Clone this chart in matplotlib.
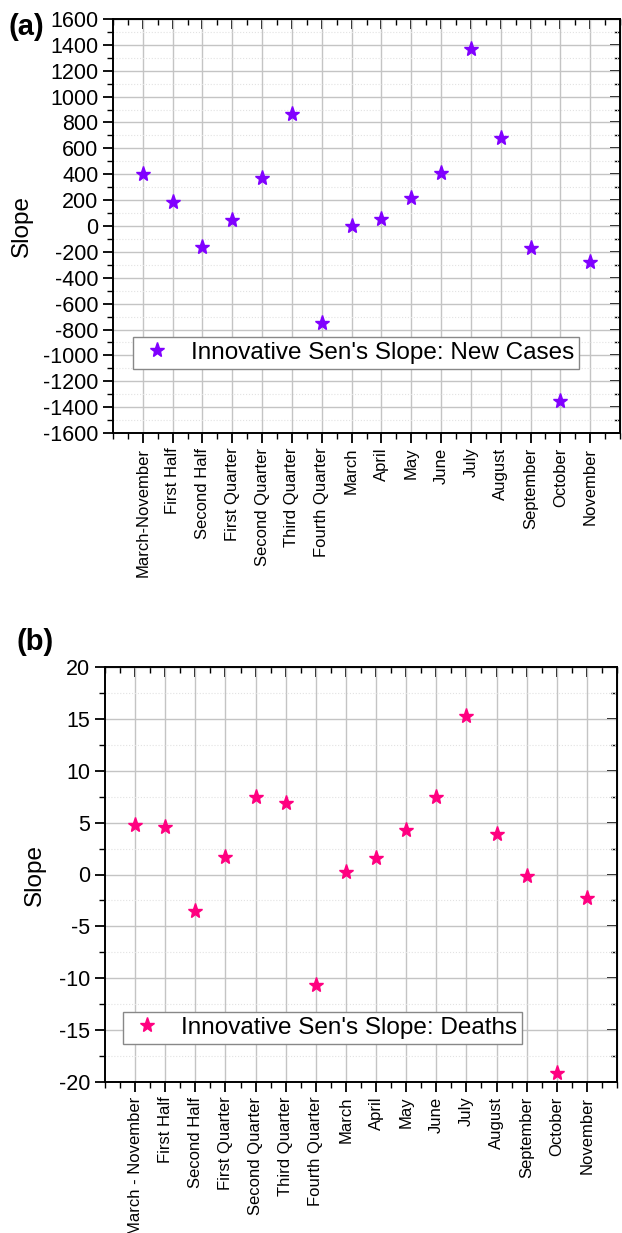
"""Innovative Sen's slope per period: new cases (a) and deaths (b)."""
import numpy as np
import matplotlib
matplotlib.use("Agg")
import matplotlib.pyplot as plt
from matplotlib.ticker import MultipleLocator

plt.rcParams["font.family"] = ["Liberation Sans", "DejaVu Sans"]
plt.rcParams["axes.unicode_minus"] = False

periods_a = ["March-November", "First Half", "Second Half", "First Quarter",
             "Second Quarter", "Third Quarter", "Fourth Quarter", "March", "April",
             "May", "June", "July", "August", "September", "October", "November"]
periods_b = ["March - November"] + periods_a[1:]

slope_cases = [405, 183, -163, 46, 373, 866, -752, 2, 54, 219, 407, 1368,
               682, -168, -1352, -281]
slope_deaths = [4.77, 4.6, -3.5, 1.66, 7.5, 6.86, -10.65, 0.2, 1.62, 4.29,
                7.5, 15.28, 3.9, -0.1, -19.16, -2.23]


def panel(ax, labels, vals, color, legend_label, ylim, major, minor,
          legend_anchor, ylabel_x):
    x = np.arange(1, len(vals) + 1)
    ax.plot(x, vals, ls="none", marker="*", ms=11, color=color, mec=color,
            label=legend_label, zorder=3)
    ax.set_xlim(0, 17)
    ax.set_ylim(*ylim)
    ax.set_xticks(x)
    ax.set_xticklabels(labels, rotation=90, fontsize=12)
    ax.xaxis.set_minor_locator(MultipleLocator(0.5))
    ax.yaxis.set_major_locator(MultipleLocator(major))
    ax.yaxis.set_minor_locator(MultipleLocator(minor))
    ax.tick_params(axis="y", labelsize=15.5)
    ax.tick_params(which="major", direction="out", length=7, width=1.3)
    ax.tick_params(which="minor", direction="out", length=4, width=1)
    ax.grid(which="major", color="#c4c4c4", lw=1)
    ax.grid(which="minor", axis="y", color="#e2e2e2", lw=0.8, ls=":")
    ax.set_axisbelow(True)
    for s in ax.spines.values():
        s.set_linewidth(1.4)
    ax.set_ylabel("Slope", fontsize=17.5)
    ax.yaxis.set_label_coords(ylabel_x, 0.5)

    top = ax.secondary_xaxis("top")
    top.set_xticks(x)
    top.xaxis.set_minor_locator(MultipleLocator(0.5))
    top.tick_params(which="major", direction="in", length=7, width=1.3, labeltop=False)
    top.tick_params(which="minor", direction="in", length=4, width=1)
    right = ax.secondary_yaxis("right")
    right.yaxis.set_major_locator(MultipleLocator(major))
    right.yaxis.set_minor_locator(MultipleLocator(minor))
    right.tick_params(which="major", direction="in", length=7, width=1.3, labelright=False)
    right.tick_params(which="minor", direction="in", length=4, width=1)

    ax.legend(loc="upper left", bbox_to_anchor=legend_anchor, numpoints=1,
              fontsize=17.5, fancybox=False, framealpha=1, edgecolor="#888888",
              handletextpad=0.6, borderpad=0.2, handlelength=1.6,
              borderaxespad=0)


fig = plt.figure(figsize=(6.22, 12.33), dpi=100)
ax_a = fig.add_axes([113 / 622, 1 - 433 / 1233, 507 / 622, 414 / 1233])
ax_b = fig.add_axes([105 / 622, 1 - 1082 / 1233, 512 / 622, 415 / 1233])

panel(ax_a, periods_a, slope_cases, "#8000ff", "Innovative Sen's Slope: New Cases",
      (-1600, 1600), 200, 100, (0.039, 0.232), -0.158)
panel(ax_b, periods_b, slope_deaths, "#ff0080", "Innovative Sen's Slope: Deaths",
      (-20, 20), 5, 2.5, (0.035, 0.169), -0.115)

fig.text(8 / 622, 1 - 13 / 1233, "(a)", fontsize=21, fontweight="bold", va="top")
fig.text(17 / 622, 1 - 628 / 1233, "(b)", fontsize=21, fontweight="bold", va="top")

fig.savefig("out.png", dpi=100)
